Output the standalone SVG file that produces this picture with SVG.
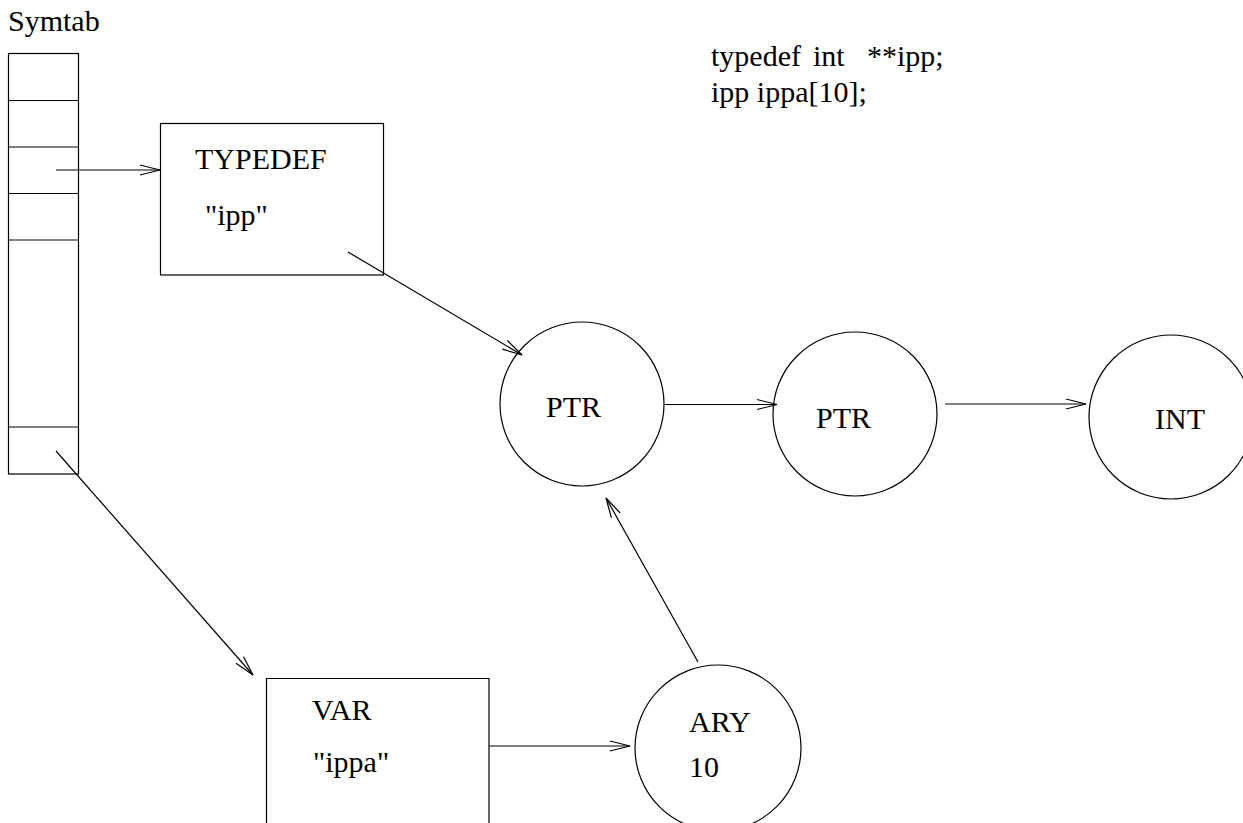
<svg xmlns="http://www.w3.org/2000/svg" width="1243" height="823" viewBox="0 0 1243 823">
<style>
.s{fill:none;stroke:#000;stroke-width:1.2}
.c{fill:none;stroke:#000;stroke-width:1.2;marker-end:url(#ah)}
</style>
<defs>
<marker id="ah" markerUnits="userSpaceOnUse" markerWidth="24" markerHeight="14" refX="20" refY="5" orient="auto" viewBox="-1 -2 23 14">
<path d="M0,0 L20,5 L0,10" fill="none" stroke="#000" stroke-width="1.2"/>
</marker>
</defs>
<rect width="1243" height="823" fill="#fff"/>
<g font-family="'Liberation Serif', 'Times New Roman', Times, serif" font-size="30" fill="#000">
<g id="symtab">
<text x="8" y="31">Symtab</text>
<rect class="s" x="8.5" y="53.5" width="70" height="420.5"/>
<path class="s" d="M8.5 100.5H78.5M8.5 147H78.5M8.5 193.5H78.5M8.5 240H78.5M8.5 427H78.5"/>
</g>
<g id="decl">
<text x="711" y="66">typedef</text>
<text x="813" y="66">int</text>
<text x="867" y="66">**ipp;</text>
<text x="711" y="102">ipp ippa[10];</text>
</g>
<g id="typedef">
<rect class="s" x="160.5" y="123.5" width="223" height="151.5"/>
<text x="195" y="169">TYPEDEF</text>
<text x="205" y="225">"ipp"</text>
</g>
<g id="ptr1">
<circle class="s" cx="582" cy="404" r="82"/>
<text x="546" y="417">PTR</text>
</g>
<g id="ptr2">
<circle class="s" cx="855" cy="414" r="82"/>
<text x="816" y="428">PTR</text>
</g>
<g id="int">
<circle class="s" cx="1171" cy="417" r="82"/>
<text x="1155" y="429">INT</text>
</g>
<g id="var">
<path class="s" d="M266.5 823V678.5H489V823"/>
<text x="312" y="720">VAR</text>
<text x="313" y="772">"ippa"</text>
</g>
<g id="ary">
<circle class="s" cx="718" cy="748" r="83"/>
<text x="689" y="732">ARY</text>
<text x="689" y="777">10</text>
</g>
</g>
<g id="connectors">
<line class="c" x1="56" y1="170" x2="160" y2="170"/>
<line class="c" x1="348" y1="252" x2="522" y2="355"/>
<line class="c" x1="664" y1="404.5" x2="777" y2="404.5"/>
<line class="c" x1="945" y1="404" x2="1086" y2="404"/>
<line class="c" x1="56" y1="451" x2="253" y2="675"/>
<line class="c" x1="489" y1="746" x2="630" y2="746"/>
<line class="c" x1="698" y1="662" x2="606" y2="498"/>
</g>
</svg>
